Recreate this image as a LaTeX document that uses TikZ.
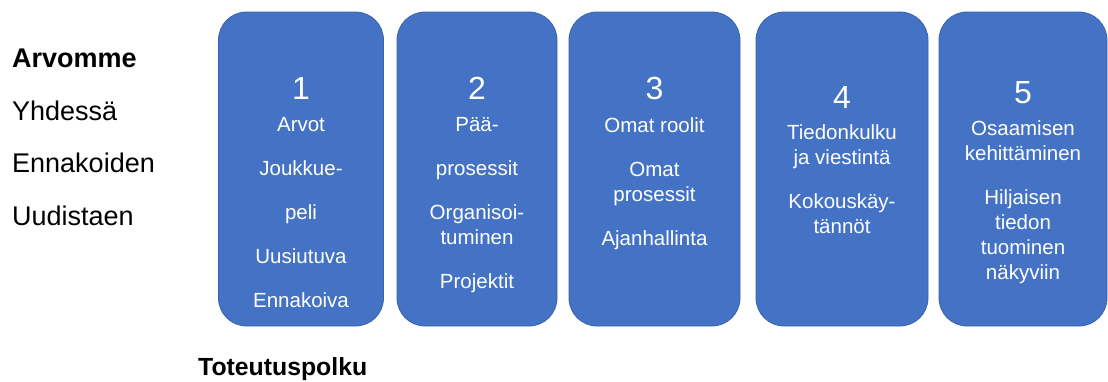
\documentclass[tikz,border=0pt]{standalone}
\usepackage{fontspec}
\setmainfont{Liberation Sans}
\usetikzlibrary{positioning}
\definecolor{boxblue}{HTML}{4472C4}
\definecolor{boxedge}{HTML}{3A63AD}

\tikzset{
  stage/.style={draw=boxedge, line width=0.8pt, fill=boxblue, rounded corners=28pt,
    minimum height=314pt, inner sep=0pt},
  stagenum/.style={text=white, font=\fontsize{32}{38}\selectfont, inner sep=0pt},
  stagetext/.style={text=white, font=\fontsize{20.5}{25}\selectfont, align=center, inner sep=0pt},
  valuetext/.style={font=\fontsize{27}{32}\selectfont, inner sep=0pt, anchor=base west},
}

\begin{document}
\begin{tikzpicture}[x=1pt,y=-1pt]
  \useasboundingbox (0,0) rectangle (1108,381);

  % values on the left
  \node[valuetext, font=\fontsize{27}{32}\selectfont\bfseries] (arvomme) at (12,67) {Arvomme};
  \node[valuetext] (yhdessa) at (12,120) {Yhdessä};
  \node[valuetext] (ennakoiden) at (12,172.5) {Ennakoiden};
  \node[valuetext] (uudistaen) at (12,225) {Uudistaen};

  % the five stages
  \node[stage, minimum width=165pt] (b1) at (301,169) {};
  \node[stage, minimum width=160pt] (b2) at (477,169) {};
  \node[stage, minimum width=171pt] (b3) at (654.5,169) {};
  \node[stage, minimum width=172pt] (b4) at (842,169) {};
  \node[stage, minimum width=168pt] (b5) at (1023,169) {};

  \node[stagenum, below=65.5pt of b1.north] (n1) {1};
  \node[stagenum, below=65.5pt of b2.north] (n2) {2};
  \node[stagenum, below=65.5pt of b3.north] (n3) {3};
  \node[stagenum, below=74.5pt of b4.north] (n4) {4};
  \node[stagenum, below=69.5pt of b5.north] (n5) {5};

  \node[stagetext, below=17.5pt of n1] (t1)
    {Arvot\\[19pt]Joukkue-\\[19pt]peli\\[19pt]Uusiutuva\\[19pt]Ennakoiva};
  \node[stagetext, below=17.5pt of n2] (t2)
    {Pää-\\[19pt]prosessit\\[19pt]Organisoi-\\tuminen\\[19pt]Projektit};
  \node[stagetext, below=17.5pt of n3] (t3)
    {Omat roolit\\[19pt]Omat\\prosessit\\[19pt]Ajanhallinta};
  \node[stagetext, below=15.5pt of n4] (t4)
    {Tiedonkulku\\ja viestintä\\[19pt]Kokouskäy-\\tännöt};
  \node[stagetext, below=16.5pt of n5] (t5)
    {Osaamisen\\kehittäminen\\[19pt]Hiljaisen\\tiedon\\tuominen\\näkyviin};

  % path label
  \node[valuetext, font=\fontsize{24.8}{30}\selectfont\bfseries] (polku) at (198,375) {Toteutuspolku};
\end{tikzpicture}
\end{document}
